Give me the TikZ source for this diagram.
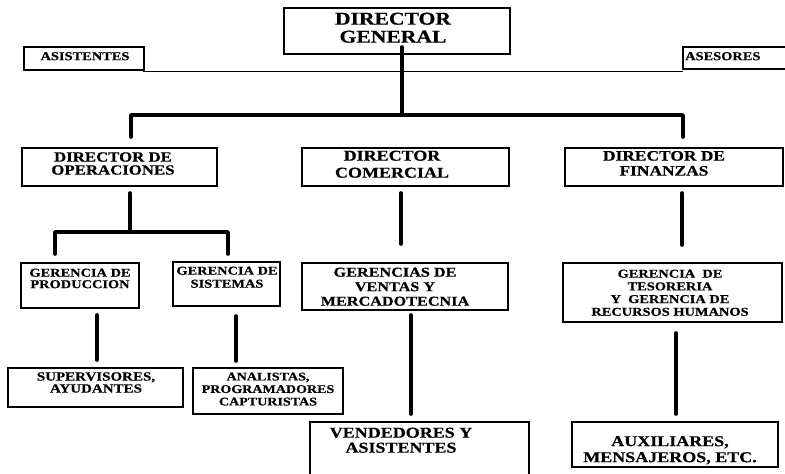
\documentclass[tikz,border=0pt]{standalone}
\usepackage{fontspec}
\setmainfont{Liberation Serif}[FakeStretch=1.2, BoldFeatures={FakeBold=0.6}]
\begin{document}
\begin{tikzpicture}[x=1pt,y=-1pt,
  box/.style={draw=black, line width=1.1pt, inner sep=0pt, fill=none},
  conn/.style={line width=3.6pt, line cap=round, line join=round},
  staff/.style={line width=1.1pt},
  txt/.style={inner sep=0pt, anchor=north, align=center, yshift=-2.5pt},
]
\useasboundingbox (0,0) rectangle (785,474);
\clip (0,0) rectangle (785,474);
\fill[white] (0,0) rectangle (785,474);

% boxes
\node[box, minimum width=226pt, minimum height=46pt] (dg)   at (397,31)    {};
\node[box, minimum width=120pt, minimum height=23pt] (asis) at (84,58.5)   {};
\node[box, minimum width=112pt, minimum height=22pt] (ases) at (739,58)    {};
\node[box, minimum width=195pt, minimum height=38pt] (ops)  at (119.5,167) {};
\node[box, minimum width=207pt, minimum height=38pt] (com)  at (405.5,167) {};
\node[box, minimum width=218pt, minimum height=38pt] (fin)  at (674,167)   {};
\node[box, minimum width=118pt, minimum height=45pt] (prod) at (80,285.5)  {};
\node[box, minimum width=107pt, minimum height=44pt] (sis)  at (226.5,284) {};
\node[box, minimum width=206pt, minimum height=47pt] (ven)  at (405,286.5) {};
\node[box, minimum width=219pt, minimum height=59pt] (tes)  at (672.5,292.5) {};
\node[box, minimum width=175pt, minimum height=39pt] (sup)  at (95.5,387.5) {};
\node[box, minimum width=150pt, minimum height=46pt] (ana)  at (268,391)   {};
\node[box, minimum width=219pt, minimum height=58pt] (vend) at (419.5,451) {};
\node[box, minimum width=206pt, minimum height=45pt] (aux)  at (675,444.5) {};

% texts
\node[txt, font={\bfseries\fontsize{18}{18}\selectfont}] (tdg) at (393,10) {DIRECTOR\\GENERAL};
\node[txt, font={\bfseries\fontsize{12}{12}\selectfont}] (tasis) at (85,49.5) {ASISTENTES};
\node[txt, anchor=north west, font={\bfseries\fontsize{12}{12}\selectfont}] (tases) at (685,49.5) {ASESORES};
\node[txt, font={\bfseries\fontsize{14}{13}\selectfont}] (tops) at (113,149.6) {DIRECTOR DE\\OPERACIONES};
\node[txt, font={\bfseries\fontsize{15}{17}\selectfont}] (tcom) at (392,148) {DIRECTOR\\COMERCIAL};
\node[txt, font={\bfseries\fontsize{14.5}{15}\selectfont}] (tfin) at (664,148.3) {DIRECTOR DE\\FINANZAS};
\node[txt, font={\bfseries\fontsize{12}{11.5}\selectfont}] (tprod) at (80,266) {GERENCIA DE\\PRODUCCION};
\node[txt, font={\bfseries\fontsize{12}{13}\selectfont}] (tsis) at (227,264) {GERENCIA DE\\SISTEMAS};
\node[txt, font={\bfseries\fontsize{13.5}{14.5}\selectfont}] (tven) at (395,265) {GERENCIAS DE\\VENTAS Y\\MERCADOTECNIA};
\node[txt, font={\bfseries\fontsize{12}{12.7}\selectfont}] (ttes) at (670,267) {GERENCIA~~DE\\TESORERIA\\Y~~GERENCIA DE\\RECURSOS HUMANOS};
\node[txt, font={\bfseries\fontsize{12.5}{12}\selectfont}] (tsup) at (96,369.6) {SUPERVISORES,\\AYUDANTES};
\node[txt, font={\bfseries\fontsize{11.7}{12.5}\selectfont}] (tana) at (268,370) {ANALISTAS,\\PROGRAMADORES\\CAPTURISTAS};
\node[txt, font={\bfseries\fontsize{15}{15}\selectfont}] (tvend) at (401,425) {VENDEDORES Y\\ASISTENTES};
\node[txt, yshift=2.5pt, font={\bfseries\fontsize{15}{16}\selectfont}] (taux) at (670,436) {AUXILIARES,\\MENSAJEROS, ETC.};

% connector points
\coordinate (dgA) at (402,47);
\coordinate (busM) at (402,115);
\coordinate (busL) at (131,115);
\coordinate (busR) at (683,115);
\coordinate (opsIn) at (131,137);
\coordinate (finIn) at (683,137);
\coordinate (opsA) at (130,193);
\coordinate (opsM) at (130,232);
\coordinate (opsL) at (55,232);
\coordinate (opsR) at (228,232);
\coordinate (prodIn) at (55,254);
\coordinate (sisIn) at (228,254);
\coordinate (comA) at (401,193);
\coordinate (comB) at (401,244);
\coordinate (finA) at (682,193);
\coordinate (finB) at (682,245);
\coordinate (prodA) at (97,315);
\coordinate (prodB) at (97,360);
\coordinate (sisA) at (236,316);
\coordinate (sisB) at (236,361);
\coordinate (venA) at (411,315);
\coordinate (venB) at (411,414);
\coordinate (tesA) at (676,333);
\coordinate (tesB) at (676,414);
\coordinate (stL) at (143,71.5);
\coordinate (stR) at (683,71.5);

% staff line
\draw[staff] (stL) -- (stR);

% thick connectors
\draw[conn] (dgA) -- (busM);
\draw[conn] (opsIn) -- (busL) -- (busR) -- (finIn);
\draw[conn] (opsA) -- (opsM);
\draw[conn] (prodIn) -- (opsL) -- (opsR) -- (sisIn);
\draw[conn] (comA) -- (comB);
\draw[conn] (finA) -- (finB);
\draw[conn] (prodA) -- (prodB);
\draw[conn] (sisA) -- (sisB);
\draw[conn] (venA) -- (venB);
\draw[conn] (tesA) -- (tesB);
\end{tikzpicture}
\end{document}
